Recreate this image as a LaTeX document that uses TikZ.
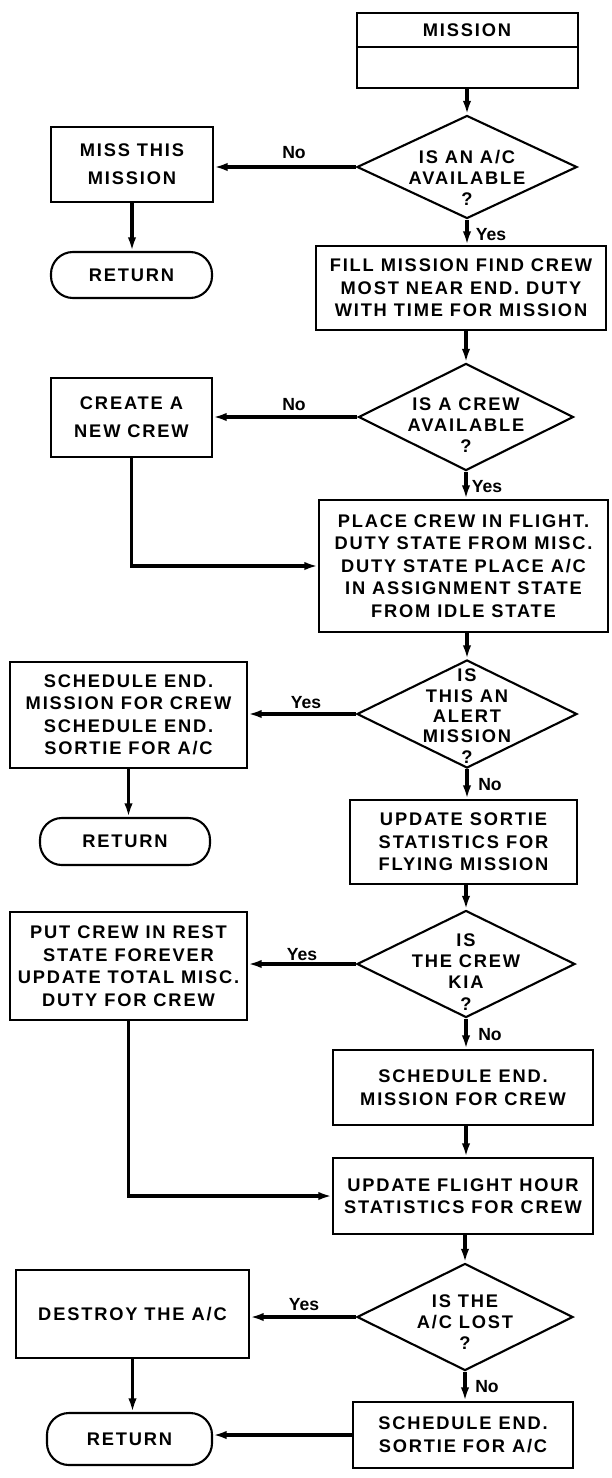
\documentclass[tikz,border=0pt]{standalone}
\usepackage{fontspec}
\setmainfont{Liberation Sans}[LetterSpace=10]
\newfontfamily\lblfamily{Liberation Sans}
\usepackage{tikz}
\usetikzlibrary{arrows.meta,shapes.geometric,calc}
\newcommand{\fcbox}{\fontsize{13}{16}\selectfont\bfseries}
\newcommand{\fcdec}{\fontsize{13}{15}\selectfont\bfseries}
\newcommand{\fclbl}{\lblfamily\fontsize{12.5}{14}\selectfont\bfseries}
\tikzstyle{box}=[rectangle, draw=black, line width=1.5pt, align=center, font=\fcbox, inner sep=0pt]
\tikzstyle{dec}=[diamond, draw=black, line width=1.5pt, inner sep=0pt]
\tikzstyle{ret}=[rectangle, rounded corners=0.55cm, draw=black, line width=1.5pt, font=\fcbox]
\tikzstyle{txt}=[align=center, font=\fcdec, inner sep=0pt]
\tikzstyle{lbl}=[font=\fclbl, inner sep=1pt]
\tikzstyle{arrow}=[-{Latex[length=3.4mm,width=2.1mm]}, line width=2.4pt]

\begin{document}
\begin{tikzpicture}[x=0.025cm,y=-0.025cm]
\useasboundingbox (0,0) rectangle (611,1478);
% main column
\node[box, minimum width=5.525cm, minimum height=1.875cm] (mission) at (467.5,50.5) {};
\node[txt] (mtitle) at (467,30) {MISSION};
\draw[line width=1.5pt] ($(mission.north west)!0.453!(mission.south west)$)
  -- ($(mission.north east)!0.453!(mission.south east)$);
\node[dec, minimum width=5.5cm, minimum height=2.575cm,
  label={[txt,yshift=-0.27cm]center:{IS AN A/C\\AVAILABLE\\?}}] (acavail) at (467,167) {};
\node[box, minimum width=7.25cm, minimum height=2.1cm] (fill) at (461,288)
  {FILL MISSION FIND CREW\\MOST NEAR END. DUTY\\WITH TIME FOR MISSION};
\node[dec, minimum width=5.375cm, minimum height=2.675cm,
  label={[txt,yshift=-0.2cm]center:{IS A CREW\\AVAILABLE\\?}}] (crewavail) at (466,417) {};
\node[box, minimum width=7.225cm, minimum height=3.3cm] (place) at (463.5,566)
  {PLACE CREW IN FLIGHT.\\DUTY STATE FROM MISC.\\DUTY STATE PLACE A/C\\IN ASSIGNMENT STATE\\FROM IDLE STATE};
\node[dec, minimum width=5.5cm, minimum height=2.7cm,
  label={[txt,yshift=-0.05cm,font=\fontsize{13}{14.5}\selectfont\bfseries]center:{IS\\THIS AN\\ALERT\\MISSION\\?}}] (alert) at (467,714) {};
\node[box, minimum width=5.675cm, minimum height=2.1cm] (sortie) at (463.5,842)
  {UPDATE SORTIE\\STATISTICS FOR\\FLYING MISSION};
\node[dec, minimum width=5.45cm, minimum height=2.675cm,
  label={[txt,yshift=-0.2cm]center:{IS\\THE CREW\\KIA\\?}}] (kia) at (466,964) {};
\node[box, minimum width=6.5cm, minimum height=1.875cm] (endmis) at (463,1087.5)
  {SCHEDULE END.\\MISSION FOR CREW};
\node[box, minimum width=6.5cm, minimum height=1.9cm] (hours) at (463,1196)
  {UPDATE FLIGHT HOUR\\STATISTICS FOR CREW};
\node[dec, minimum width=5.4cm, minimum height=2.675cm,
  label={[txt,yshift=-0.12cm]center:{IS THE\\A/C LOST\\?}}] (aclost) at (465,1317) {};
\node[box, minimum width=5.5cm, minimum height=1.65cm] (endsortie) at (463,1435)
  {SCHEDULE END.\\SORTIE FOR A/C};
% left column
\node[box, minimum width=4.05cm, minimum height=1.875cm] (miss) at (132,164.5) {MISS THIS\\[4pt]MISSION};
\node[ret, minimum width=4.025cm, minimum height=1.15cm] (ret1) at (131.5,275) {RETURN};
\node[box, minimum width=4.025cm, minimum height=1.975cm] (create) at (131.5,417.5) {CREATE A\\[4pt]NEW CREW};
\node[box, minimum width=5.925cm, minimum height=2.65cm] (alertsch) at (128.5,715)
  {SCHEDULE END.\\MISSION FOR CREW\\SCHEDULE END.\\SORTIE FOR A/C};
\node[ret, minimum width=4.25cm, minimum height=1.175cm] (ret2) at (125,841.5) {RETURN};
\node[box, minimum width=5.925cm, minimum height=2.7cm] (rest) at (128.5,966)
  {PUT CREW IN REST\\STATE FOREVER\\UPDATE TOTAL MISC.\\DUTY FOR CREW};
\node[box, minimum width=5.825cm, minimum height=2.2cm] (destroy) at (132.5,1314) {DESTROY THE A/C};
\node[ret, minimum width=4.125cm, minimum height=1.3cm] (ret3) at (129.5,1439) {RETURN};
% vertical flow
\draw[arrow] (acavail.north |- mission.south) -- (acavail.north);
\draw[arrow] (acavail.south) -- (acavail.south |- fill.north);
\draw[arrow] (crewavail.north |- fill.south) -- (crewavail.north);
\draw[arrow] (crewavail.south) -- (crewavail.south |- place.north);
\draw[arrow] (alert.north |- place.south) -- (alert.north);
\draw[arrow] (alert.south) -- (alert.south |- sortie.north);
\draw[arrow] (kia.north |- sortie.south) -- (kia.north);
\draw[arrow] (kia.south) -- (kia.south |- endmis.north);
\draw[arrow] (kia.south |- endmis.south) -- (kia.south |- hours.north);
\draw[arrow] (aclost.north |- hours.south) -- (aclost.north);
\draw[arrow] (aclost.south) -- (aclost.south |- endsortie.north);
% branches
\draw[arrow] (acavail.west) -- (miss.east |- acavail.west);
\draw[arrow] (miss.south) -- (miss.south |- ret1.north);
\draw[arrow] (crewavail.west) -- (create.east |- crewavail.west);
\draw[arrow] (create.south) |- (place.west);
\draw[arrow] (alert.west) -- (alertsch.east |- alert.west);
\draw[arrow] (alertsch.south) -- (alertsch.south |- ret2.north);
\draw[arrow] (kia.west) -- (rest.east |- kia.west);
\draw[arrow] (rest.south) |- (hours.west);
\draw[arrow] (aclost.west) -- (destroy.east |- aclost.west);
\draw[arrow] (destroy.south) -- (destroy.south |- ret3.north);
\draw[arrow] (endsortie.west) -- (ret3.east |- endsortie.west);
% Yes / No
\foreach \x/\y/\t/\n in {294/153/No/noA, 491/235/Yes/yesA, 294/405/No/noB, 487/487/Yes/yesB,
                         306/703/Yes/yesC, 490/785/No/noC, 302/955/Yes/yesD, 490/1035/No/noD,
                         304/1305/Yes/yesE, 487/1387/No/noE}
  \node[lbl] (\n) at (\x,\y) {\t};
\end{tikzpicture}
\end{document}
